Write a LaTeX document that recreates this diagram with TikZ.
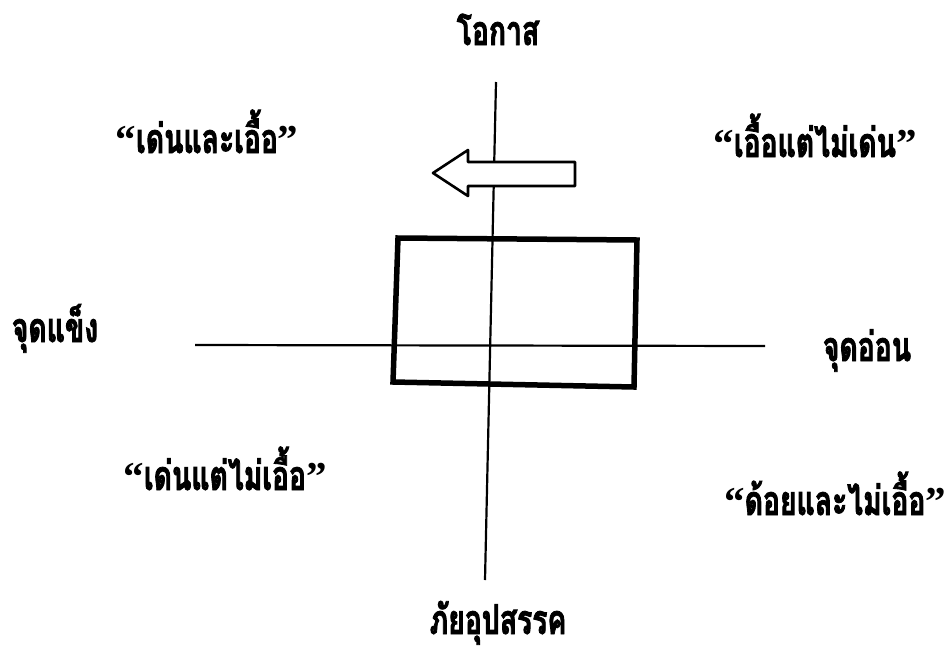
\documentclass[tikz,border=0pt]{standalone}
\usepackage{fontspec}
\setmainfont[Script=Thai,BoldFeatures={FakeStretch=0.69,FakeBold=2}]{Loma}
\newfontfamily\quotefont{Liberation Serif}
\newcommand{\quo}[1]{{\quotefont“}#1{\quotefont”}}
\usetikzlibrary{positioning}

\begin{document}
\begin{tikzpicture}[x=1pt,y=-1pt,
  lbl/.style={font=\bfseries\fontsize{41}{46}\selectfont,inner sep=0pt,anchor=base}]
\useasboundingbox (0,0) rectangle (945,651);
% axes
\coordinate (top) at (496,82);
\coordinate (bot) at (485,580);
\coordinate (lft) at (195,345);
\coordinate (rgt) at (765,346);
\draw[line width=2.2] (top) -- (bot);
\draw[line width=2.2] (lft) -- (rgt);
% box
\draw[line width=5.5] (398,238) -- (637,240) -- (634,387) -- (393,382) -- cycle;
% block arrow
\draw[line width=2.6,fill=white,line join=round] (433,173) -- (468,150) -- (468,162) -- (575,162) -- (575,186) -- (468,186) -- (468,196) -- cycle;
% labels
\node[lbl] (opp) at (498,45) {โอกาส};
\node[lbl] (thr) at (498,634) {ภัยอุปสรรค};
\node[lbl] (str) at (55,342) {จุดแข็ง};
\node[lbl] (wea) at (867,361) {จุดอ่อน};
\node[lbl] (q1) at (207,153) {\quo{เด่นและเอื้อ}};
\node[lbl] (q2) at (815,157) {\quo{เอื้อแต่ไม่เด่น}};
\node[lbl] (q3) at (225,490) {\quo{เด่นแต่ไม่เอื้อ}};
\node[lbl] (q4) at (835,515) {\quo{ด้อยและไม่เอื้อ}};
\end{tikzpicture}
\end{document}
